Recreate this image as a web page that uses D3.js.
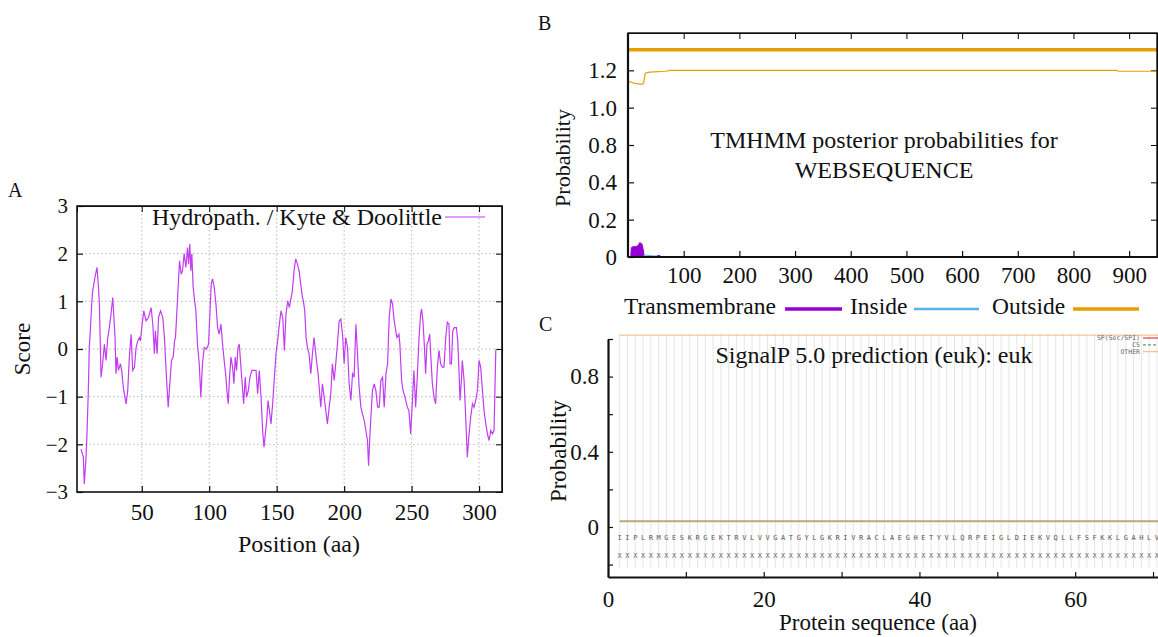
<!DOCTYPE html>
<html>
<head>
<meta charset="utf-8">
<script src="https://cdn.jsdelivr.net/npm/d3@7"></script>
<style>
  body { margin: 0; background: #fff; }
  text { font-family: "Liberation Serif", "Times New Roman", serif; fill: #111; }
  .mono { font-family: "DejaVu Sans Mono", monospace; }
</style>
</head>
<body>
<div id="chart"></div>
<script>
// ---- A: hydropathy (Kyte & Doolittle) ----
var hydroPos = [5,6.7,7.4,8.7,9.4,10.4,11.1,11.9,12.9,13.6,15.3,16.8,17.8,18.6,19.8,21,22.3,23.5,24.8,26,27.2,28.5,29.2,30.2,30.9,31.7,32.7,34.2,35.1,36.6,38.4,39.6,40.8,42.1,43.3,44.6,45.8,47,48.3,49,50,51.5,53.2,55,56.9,58.2,59.4,60.1,61.4,62.4,63.9,65.6,66.8,68.3,69.6,70.8,72,73.3,74.3,75,76.7,78,79.2,80.2,81.4,82.7,83.9,84.7,85.6,86.4,87.1,88.1,88.9,90.1,91.3,92.6,93.8,95,96.3,98,99.5,100.5,101.5,102.5,103.7,105,106.2,107.4,108.7,109.9,111.1,112.4,113.1,114.1,114.9,116.1,117.3,118.3,119.3,120.3,121.3,122.3,123.5,124.8,125.5,126.7,127.7,129,130.2,131.7,133.4,134.7,135.9,137.1,138.4,139.6,140.6,141.6,142.6,143.6,144.6,145.8,147,148.3,149.5,150.7,152,153.2,154.5,155.7,156.9,158.2,159.4,161.6,162.9,164.1,165.4,166.6,167.8,169.1,169.8,170.8,171.8,172.8,174,175.3,176.5,177.7,178.5,179.5,180.7,181.7,182.7,183.9,185.2,186.4,187.6,188.9,190.1,191.3,192.6,193.8,195,196.3,197.5,198.8,200,201.2,202.5,203.7,205,206.2,207.4,208.7,209.9,211.1,212.4,213.6,214.9,216.1,217.3,218.1,218.8,219.8,221,222.3,223.5,224.8,226,227.2,228.5,229.7,231,232.2,233.4,234.7,235.9,237.1,239.1,240.6,241.3,242.6,243.6,245.1,246.8,248,249.3,250.5,251.7,253,254.2,255.5,256.7,257.4,258.4,259.4,260.4,261.4,262.4,263.4,264.4,265.4,266.6,267.8,269.1,270.3,271.5,272.8,274,275.3,276.5,277.7,278.5,279.5,280.5,281.7,283.2,284.2,285.2,285.9,286.9,287.6,288.9,290.1,291.3,292.6,293.8,295.1,296.3,297.5,298.8,300,301.2,302.5,303.7,305,306.2,307.4,308.7,309.9,311.1,312.4,312.9];
var hydroScore = [-2.1,-2.27,-2.83,-2.27,-1.78,-0.87,0.03,0.38,0.94,1.22,1.5,1.71,1.36,0.94,-0.59,-0.31,0.1,-0.24,0.24,0.45,0.73,1.08,0.73,0.24,-0.52,-0.17,-0.45,-0.31,-0.45,-0.87,-1.15,-0.87,-0.17,0.31,-0.45,-0.38,0.03,0.17,0.24,0.17,0.45,0.8,0.59,0.66,0.87,0.52,-0.1,0.38,-0.1,0.66,0.8,0.66,0.24,-0.59,-1.22,-0.73,-0.24,-0.17,0.17,0.24,1.15,1.85,1.57,1.64,2.0,1.71,2.13,1.78,2.2,1.64,2.0,1.29,1.08,0.8,0.1,-0.31,-1.01,-0.31,0.03,0,0.1,0.73,1.36,1.47,1.29,0.94,0.45,0.31,0.52,0.1,-0.24,-0.59,-0.87,-1.15,-0.66,-0.17,-0.38,-0.73,-0.17,-0.45,0.03,0.1,-0.38,-0.87,-1.15,-0.59,-1.01,-0.87,-0.59,-0.45,-0.45,-0.45,-0.94,-0.45,-1.01,-1.71,-2.06,-1.78,-1.5,-1.08,-1.29,-1.57,-1.15,-0.59,-0.1,0.17,0.52,0.8,0.66,-0.03,0.73,1.01,0.87,1.22,1.64,1.89,1.78,1.64,1.36,1.08,1.01,0.8,0.24,0.03,-0.1,-0.52,-0.1,0.24,0.03,-0.24,-0.52,-0.87,-1.22,-0.73,-1.01,-1.29,-1.57,-1.22,-0.94,-0.31,-0.66,-0.31,0.1,0.59,0.63,0.31,-0.31,0.24,0.03,-0.73,-1.08,-0.52,-0.59,0.52,-0.1,-0.8,-1.22,-1.36,-1.5,-1.71,-1.92,-2.45,-1.99,-1.43,-0.87,-0.73,-0.87,-1.22,-1.22,-0.66,-0.59,-1.22,-0.52,-0.31,0.66,1.05,0.94,0.59,0.24,0.31,0.1,-0.66,-0.87,-1.01,-1.22,-1.29,-1.78,-1.15,-0.45,-1.22,-0.59,0.24,0.73,0.84,0.59,0.1,-0.52,0.1,0.17,0.31,-0.24,-0.73,-1.01,-1.15,-0.38,-0.03,-0.31,-0.38,-0.38,0.24,0.56,0.52,-0.31,-0.31,0.38,0.45,0.45,0.17,-0.52,-1.08,-0.66,-0.24,-0.66,-1.43,-2.27,-1.78,-1.43,-1.15,-1.22,-1.08,-0.87,-0.24,-0.38,-0.87,-1.29,-1.57,-1.78,-1.92,-1.71,-1.78,-1.71,-0.03,0];
var xTicksA = [50,100,150,200,250,300];
var yTicksA = [-3,-2,-1,0,1,2,3];

// ---- B: TMHMM posterior probabilities ----
var outsidePos = [1,2,12,25,28,31,39,68,75,877,881,950];
var outsideProb = [0.94,0.94,0.93,0.925,0.93,0.985,0.99,0.995,1.0,1.0,0.995,0.995];
var tmPos = [5,6,9,13,18,21,25,28,29,50,53,57,60];
var tmProb = [0,0.05,0.055,0.055,0.06,0.077,0.07,0.03,0,0,0.008,0.008,0];
var insidePos = [26,30,40,50,60];
var insideProb = [0,0.01,0.008,0.005,0];
var topoOutside = {start: 1, end: 950, level: 1.11};
var xTicksB = [100,200,300,400,500,600,700,800,900];
var yTicksB = [0,0.2,0.4,0.6,0.8,1.0];
var yLabelsB = ["0","0.2","0.4","0.8","1.0","1.2"];
var legendB = ["Transmembrane","Inside","Outside"];

// ---- C: SignalP 5.0 ----
var sequenceC = "IIPLRMGESKRGEKTRVLVVGATGYLGKRIVRACLAEGHETYVLQRPEIGLDIEKVQLLFSFKKLGAHLV".split("");
var spProb = 0.03;
var otherProb = 1.02;
var xTicksC = [0,10,20,30,40,50,60,70];
var xLabelsC = [0,20,40,60];
var yTicksC = [-0.2,0,0.2,0.4,0.6,0.8,1.0];
var yLabelsC = [0,0.4,0.8];
var legendC = ["SP(Sec/SPI)","CS","OTHER"];

var purple = "#9400d3", skyblue = "#56b4e9", orange = "#e69f00";
var serif = '"Liberation Serif", "Times New Roman", serif';

var svg = d3.select("#chart")
  .append("svg")
    .attr("width", 1158)
    .attr("height", 637);
svg.append("rect").attr("width", 1158).attr("height", 637).attr("fill", "#fff");

// ================= Panel A =================
var xA = d3.scaleLinear().domain([2, 317]).range([77, 502]);
var yA = d3.scaleLinear().domain([-3, 3]).range([492, 206]);

// dotted grid
svg.append("g").selectAll("line")
  .data(xTicksA).join("line")
    .attr("x1", d => xA(d)).attr("x2", d => xA(d))
    .attr("y1", yA(3)).attr("y2", yA(-3))
    .attr("stroke", "#b8b8b8").attr("stroke-dasharray", "1.5,2.5");
svg.append("g").selectAll("line")
  .data(yTicksA.slice(1, -1)).join("line")
    .attr("x1", xA.range()[0]).attr("x2", xA.range()[1])
    .attr("y1", d => yA(d)).attr("y2", d => yA(d))
    .attr("stroke", "#b8b8b8").attr("stroke-dasharray", "1.5,2.5");

var gxA = svg.append("g")
  .attr("transform", "translate(0," + yA(-3) + ")")
  .call(d3.axisBottom(xA).tickValues(xTicksA).tickSize(-6).tickPadding(12));
var gyA = svg.append("g")
  .attr("transform", "translate(" + xA.range()[0] + ",0)")
  .call(d3.axisLeft(yA).tickValues(yTicksA).tickSize(-6).tickPadding(9).tickFormat(d3.format("d")));
svg.append("g")
  .attr("transform", "translate(0," + yA(3) + ")")
  .call(d3.axisTop(xA).tickValues(xTicksA).tickSize(-6).tickFormat(""));
svg.append("g")
  .attr("transform", "translate(" + xA.range()[1] + ",0)")
  .call(d3.axisRight(yA).tickValues(yTicksA).tickSize(-6).tickFormat(""));

svg.append("path")
  .datum(hydroPos.map((p, i) => [p, hydroScore[i]]))
  .attr("d", d3.line().x(d => xA(d[0])).y(d => yA(d[1])))
  .attr("fill", "none")
  .attr("stroke", "#c23cf2")
  .attr("stroke-width", 1.2);

svg.append("rect")
  .attr("x", xA.range()[0]).attr("y", yA(3))
  .attr("width", xA.range()[1] - xA.range()[0]).attr("height", yA(-3) - yA(3))
  .attr("fill", "none").attr("stroke", "#111").attr("stroke-width", 1.6);

svg.append("text").attr("x", 442).attr("y", 225).attr("text-anchor", "end")
  .style("font-size", "24px").text("Hydropath. / Kyte & Doolittle");
svg.append("line").attr("x1", 445).attr("x2", 485).attr("y1", 217).attr("y2", 217)
  .attr("stroke", "#c23cf2").attr("stroke-width", 1.2);

svg.append("text").attr("x", 299).attr("y", 552).attr("text-anchor", "middle")
  .style("font-size", "24px").text("Position (aa)");
svg.append("text").attr("transform", "translate(30,349) rotate(-90)").attr("text-anchor", "middle")
  .style("font-size", "23px").text("Score");
svg.append("text").attr("x", 8).attr("y", 197).style("font-size", "20px").text("A");

// ================= Panel B =================
var xB = d3.scaleLinear().domain([0, 950]).range([628, 1157]);
var yB = d3.scaleLinear().domain([0, 1.2]).range([257, 33]);

var gxB = svg.append("g")
  .attr("transform", "translate(0," + yB(0) + ")")
  .call(d3.axisBottom(xB).tickValues(xTicksB).tickSize(-6).tickPadding(10));
var gyB = svg.append("g")
  .attr("transform", "translate(" + xB(0) + ",0)")
  .call(d3.axisLeft(yB).tickValues(yTicksB).tickSize(-6).tickPadding(11)
    .tickFormat((d, i) => yLabelsB[i]));
svg.append("g")
  .attr("transform", "translate(0," + yB(1.2) + ")")
  .call(d3.axisTop(xB).tickValues(xTicksB).tickSize(-6).tickFormat(""));
svg.append("g")
  .attr("transform", "translate(" + xB(950) + ",0)")
  .call(d3.axisRight(yB).tickValues(yTicksB).tickSize(-6).tickFormat(""));

// topology bar
svg.append("line")
  .attr("x1", xB(topoOutside.start)).attr("x2", xB(topoOutside.end))
  .attr("y1", yB(topoOutside.level)).attr("y2", yB(topoOutside.level))
  .attr("stroke", orange).attr("stroke-width", 3.5);

svg.append("path")
  .datum(tmPos.map((p, i) => [p, tmProb[i]]))
  .attr("d", d3.area().x(d => xB(d[0])).y0(yB(0)).y1(d => yB(d[1])))
  .attr("fill", purple).attr("stroke", purple).attr("stroke-width", 1);
svg.append("path")
  .datum(insidePos.map((p, i) => [p, insideProb[i]]))
  .attr("d", d3.line().x(d => xB(d[0])).y(d => yB(d[1])))
  .attr("fill", "none").attr("stroke", skyblue).attr("stroke-width", 1);
svg.append("path")
  .datum(outsidePos.map((p, i) => [p, outsideProb[i]]))
  .attr("d", d3.line().x(d => xB(d[0])).y(d => yB(d[1])))
  .attr("fill", "none").attr("stroke", orange).attr("stroke-width", 1.2);

// frame
svg.append("rect")
  .attr("x", xB(0)).attr("y", yB(1.2))
  .attr("width", xB(950) - xB(0)).attr("height", yB(0) - yB(1.2))
  .attr("fill", "none").attr("stroke", "#111").attr("stroke-width", 1.4);
svg.append("line").attr("x1", xB(0)).attr("x2", xB(0)).attr("y1", yB(1.2)).attr("y2", yB(0))
  .attr("stroke", "#111").attr("stroke-width", 2.2);
svg.append("line").attr("x1", xB(0)).attr("x2", xB(950)).attr("y1", yB(0)).attr("y2", yB(0))
  .attr("stroke", "#111").attr("stroke-width", 2.2);

svg.append("text").attr("x", 884).attr("y", 148).attr("text-anchor", "middle")
  .style("font-size", "24px").text("TMHMM posterior probabilities for");
svg.append("text").attr("x", 884).attr("y", 178).attr("text-anchor", "middle")
  .style("font-size", "24px").text("WEBSEQUENCE");
svg.append("text").attr("transform", "translate(570,158) rotate(-90)").attr("text-anchor", "middle")
  .style("font-size", "22px").text("Probability");
svg.append("text").attr("x", 538).attr("y", 30).style("font-size", "20px").text("B");

// legend below B
var legBText = [624, 850, 992];
var legBLine = [[785, 842], [914, 979], [1073, 1139]];
var legBColor = [purple, skyblue, orange];
var legBWidth = [3.5, 2.5, 3.5];
legendB.forEach(function(name, i) {
  svg.append("text").attr("x", legBText[i]).attr("y", 314)
    .style("font-size", "23.5px").text(name);
  svg.append("line").attr("x1", legBLine[i][0]).attr("x2", legBLine[i][1])
    .attr("y1", 309).attr("y2", 309)
    .attr("stroke", legBColor[i]).attr("stroke-width", legBWidth[i]);
});

// ================= Panel C =================
var xC = d3.scaleLinear().domain([0, 70.64]).range([608, 1158]);
var yC = d3.scaleLinear().domain([-0.266, 1.0]).range([577, 339]);

// one light grid line per residue
svg.append("g").selectAll("line")
  .data(sequenceC).join("line")
    .attr("x1", (d, i) => xC(i + 1.5)).attr("x2", (d, i) => xC(i + 1.5))
    .attr("y1", 333).attr("y2", 568)
    .attr("stroke", "#e6e6e6").attr("stroke-width", 1);

svg.append("g").selectAll("text")
  .data(sequenceC).join("text")
    .attr("class", "mono")
    .attr("x", (d, i) => xC(i + 1.5)).attr("y", 540)
    .attr("text-anchor", "middle")
    .style("font-size", "7px").style("fill", "#555")
    .text(d => d);
svg.append("g").selectAll("text")
  .data(sequenceC).join("text")
    .attr("class", "mono")
    .attr("x", (d, i) => xC(i + 1.5)).attr("y", 558)
    .attr("text-anchor", "middle")
    .style("font-size", "7px").style("fill", "#666")
    .text("X");

svg.append("line")
  .attr("x1", xC(1.5)).attr("x2", xC(70.64))
  .attr("y1", yC(otherProb)).attr("y2", yC(otherProb))
  .attr("stroke", "#f6cfa8").attr("stroke-width", 1.5);
svg.append("line")
  .attr("x1", xC(1.5)).attr("x2", xC(70.64))
  .attr("y1", yC(spProb)).attr("y2", yC(spProb))
  .attr("stroke", "#b3ab78").attr("stroke-width", 2);

var gxC = svg.append("g")
  .attr("transform", "translate(0," + yC(-0.266) + ")")
  .call(d3.axisBottom(xC).tickValues(xTicksC).tickSize(-5).tickSizeOuter(0).tickPadding(14)
    .tickFormat(d => xLabelsC.indexOf(d) >= 0 ? d : ""));
var gyC = svg.append("g")
  .attr("transform", "translate(" + xC(0) + ",0)")
  .call(d3.axisLeft(yC).tickValues(yTicksC).tickSize(-5).tickSizeOuter(0).tickPadding(9)
    .tickFormat(d => yLabelsC.indexOf(d) >= 0 ? d : ""));

svg.append("text").attr("x", 874).attr("y", 363).attr("text-anchor", "middle")
  .style("font-size", "24px").text("SignalP 5.0 prediction (euk): euk");
svg.append("text").attr("transform", "translate(566,451) rotate(-90)").attr("text-anchor", "middle")
  .style("font-size", "23px").text("Probability");
svg.append("text").attr("x", 878).attr("y", 630).attr("text-anchor", "middle")
  .style("font-size", "23px").text("Protein sequence (aa)");
svg.append("text").attr("x", 539).attr("y", 331).style("font-size", "20px").text("C");

// tiny legend top right
var legCColor = ["#e8474f", "#4caf50", "#f6c08a"];
var legCDash = [null, "3,2", null];
legendC.forEach(function(name, i) {
  var ly = 338 + i * 6.8;
  svg.append("text").attr("class", "mono").attr("x", 1140).attr("y", ly + 2.3)
    .attr("text-anchor", "end").style("font-size", "6.5px").style("fill", "#666").text(name);
  svg.append("line").attr("x1", 1143).attr("x2", 1158).attr("y1", ly).attr("y2", ly)
    .attr("stroke", legCColor[i]).attr("stroke-width", 1.3).attr("stroke-dasharray", legCDash[i]);
});

// axis styling
[gxA, gyA, gxB, gyB, gxC, gyC].forEach(function(g) {
  g.selectAll(".tick text").style("font-size", "23px")
    .style("font-family", serif).attr("fill", "#111");
  g.selectAll(".tick line").attr("stroke", "#111").attr("stroke-width", 1.2);
});
gyA.selectAll(".tick text").style("font-size", "21px");
[gxA, gyA, gxB, gyB].forEach(function(g) { g.select(".domain").remove(); });
[gxC, gyC].forEach(function(g) {
  g.select(".domain").attr("stroke", "#111").attr("stroke-width", 2.2);
});
</script>
</body>
</html>
